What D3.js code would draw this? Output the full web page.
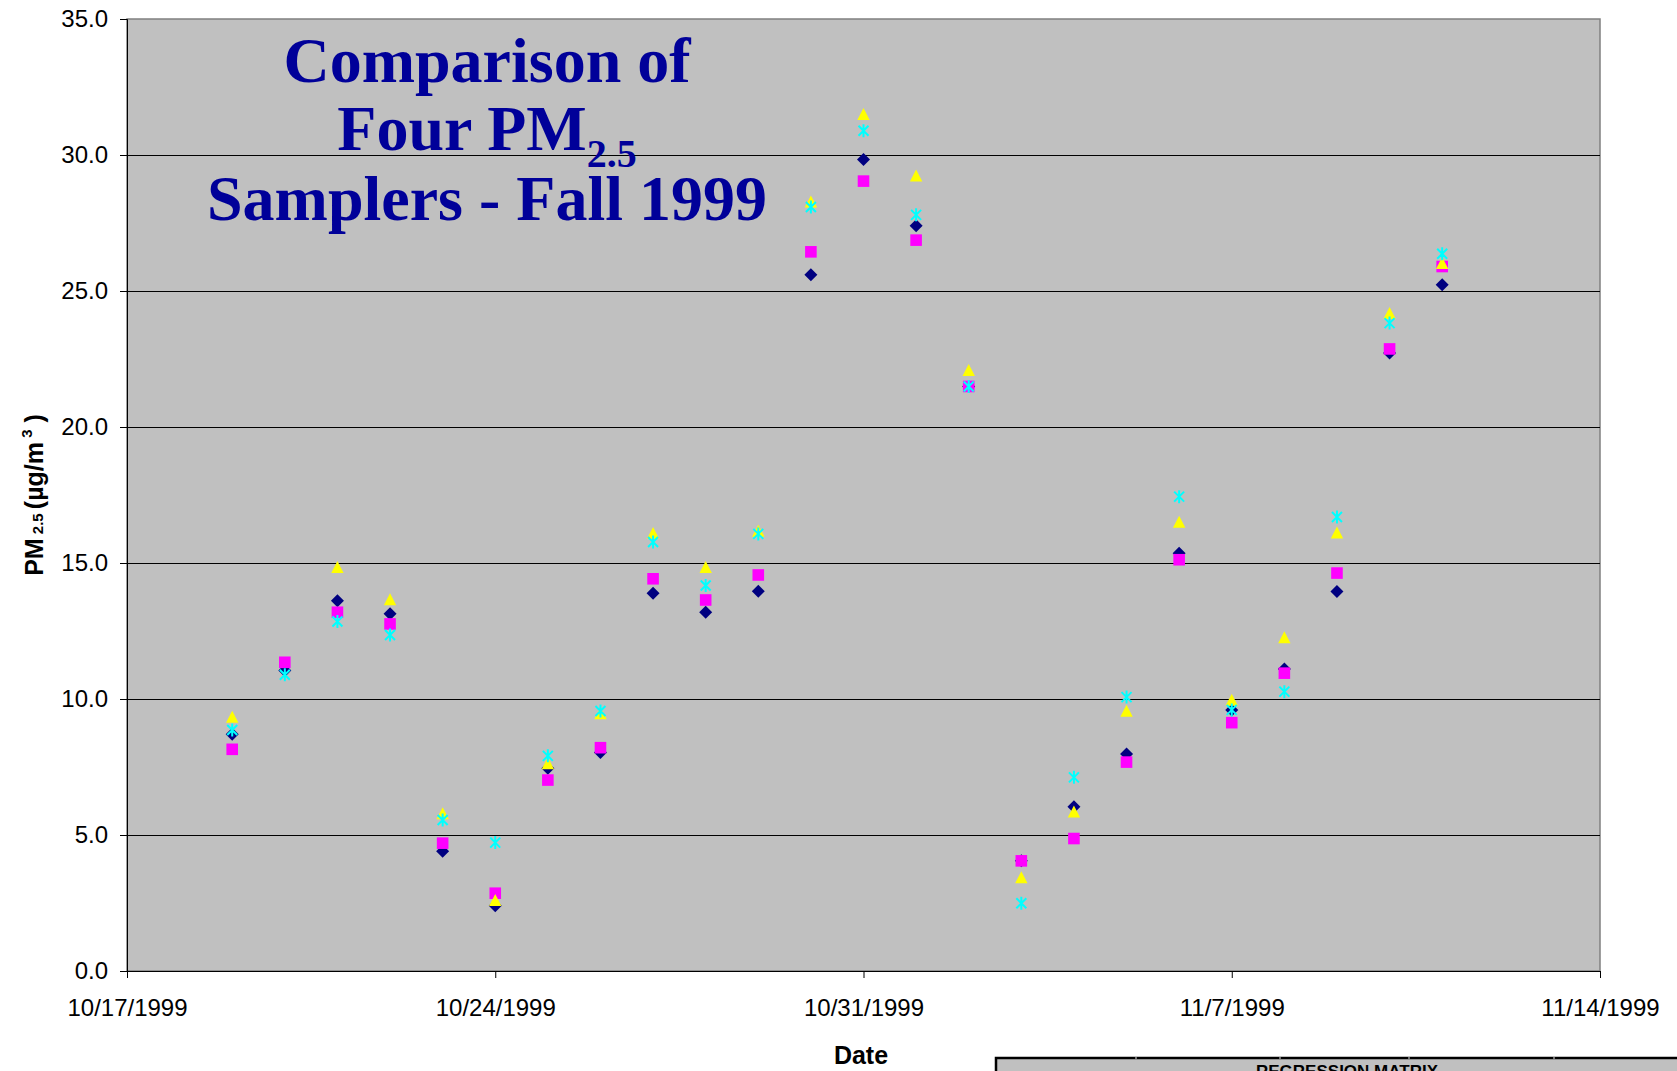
<!DOCTYPE html>
<html lang="en">
<head>
    <meta charset="UTF-8">
    <title>Comparison of Four PM2.5 Samplers - Fall 1999</title>
    <style>
        body { margin: 0; background: #fff; }
        svg { display: block; }
        .axis text { font-family: "Liberation Sans", Arial, sans-serif; font-size: 24px; fill: #000; }
        .axis path, .axis line { stroke: #000; }
    </style>
</head>
<body>
    <div class="visHolder"></div>

    <script src="https://cdnjs.cloudflare.com/ajax/libs/d3/7.8.5/d3.min.js"></script>
    <script>
        // sample days
        var dates = ['10/19/1999', '10/20/1999', '10/21/1999', '10/22/1999', '10/23/1999', '10/24/1999',
                     '10/25/1999', '10/26/1999', '10/27/1999', '10/28/1999', '10/29/1999', '10/30/1999',
                     '10/31/1999', '11/1/1999', '11/2/1999', '11/3/1999', '11/4/1999', '11/5/1999',
                     '11/6/1999', '11/7/1999', '11/8/1999', '11/9/1999', '11/10/1999', '11/11/1999'];

        // four samplers, ug/m3 (null = no sample)
        var samplerA = [8.70, 11.05, 13.61, 13.13, 4.40, 2.40, 7.45, 8.03, 13.89, 13.19, 13.96, 25.60,
                        29.83, 27.40, 21.49, 4.05, 6.04, 7.98, 15.36, 9.60, 11.10, 13.95, 22.72, 25.23];
        var samplerB = [8.15, 11.35, 13.19, 12.76, 4.70, 2.86, 7.02, 8.21, 14.42, 13.64, 14.56, 26.44,
                        29.04, 26.87, 21.49, 4.05, 4.87, 7.68, 15.12, 9.13, 10.95, 14.63, 22.87, 25.90];
        var samplerC = [9.35, null, 14.85, 13.67, 5.80, 2.61, 7.64, 9.48, 16.10, 14.85, 16.19, 28.29,
                        31.51, 29.25, 22.10, 3.45, 5.86, 9.57, 16.52, 9.97, 12.27, 16.12, 24.19, 26.03];
        var samplerD = [8.86, 10.89, 12.85, 12.35, 5.55, 4.72, 7.91, 9.56, 15.77, 14.17, 16.07, 28.09,
                        30.89, 27.80, 21.49, 2.49, 7.12, 10.07, 17.44, 9.60, 10.27, 16.69, 23.82, 26.37];

        var xTickLabels = ['10/17/1999', '10/24/1999', '10/31/1999', '11/7/1999', '11/14/1999'];
        var yTickValues = [0, 5, 10, 15, 20, 25, 30, 35];

        var width = 1677, height = 1071;
        // "top" is taken by window.top, so prefix the plot edges
        var plotLeft = 127, plotRight = 1600, plotTop = 19, plotBottom = 971;

        var parseDate = d3.timeParse('%m/%d/%Y');
        var xTicks = xTickLabels.map(parseDate);

        var svg = d3.select('.visHolder')
                    .append('svg')
                    .attr('width', width)
                    .attr('height', height);

        var xScale = d3.scaleTime()
                       .domain([xTicks[0], xTicks[xTicks.length - 1]])
                       .range([plotLeft, plotRight]);
        var yScale = d3.scaleLinear()
                       .domain([0, 35])
                       .range([plotBottom, plotTop]);

        // grey plot area
        svg.append('rect')
           .attr('x', plotLeft).attr('y', plotTop)
           .attr('width', plotRight - plotLeft).attr('height', plotBottom - plotTop)
           .attr('fill', '#c0c0c0')
           .attr('stroke', '#808080')
           .attr('stroke-width', 1.5);

        // horizontal gridlines
        svg.append('g')
           .selectAll('line')
           .data(yTickValues.slice(1, -1))
           .enter()
           .append('line')
           .attr('x1', plotLeft).attr('x2', plotRight)
           .attr('y1', d => Math.round(yScale(d)) + 0.5)
           .attr('y2', d => Math.round(yScale(d)) + 0.5)
           .attr('stroke', '#000')
           .attr('stroke-width', 1);

        // axes
        var yAxis = d3.axisLeft(yScale)
                      .tickValues(yTickValues)
                      .tickFormat(d3.format('.1f'))
                      .tickSize(7)
                      .tickPadding(12);
        svg.append('g')
           .attr('class', 'axis')
           .attr('transform', 'translate(' + plotLeft + ',0)')
           .call(yAxis);

        var xAxis = d3.axisBottom(xScale)
                      .tickValues(xTicks)
                      .tickFormat((d, i) => xTickLabels[i])
                      .tickSize(7)
                      .tickPadding(21);
        svg.append('g')
           .attr('class', 'axis')
           .attr('transform', 'translate(0,' + plotBottom + ')')
           .call(xAxis);

        // markers, drawn in series order like the original
        var series = [
            { values: samplerA, shape: 'M0,-6.5L6.5,0L0,6.5L-6.5,0Z', fill: '#000080', stroke: 'none' },
            { values: samplerB, shape: 'M-5.8,-5.8H5.8V5.8H-5.8Z', fill: '#ff00ff', stroke: 'none' },
            { values: samplerC, shape: 'M0,-6L6.2,6L-6.2,6Z', fill: '#ffff00', stroke: 'none' },
            { values: samplerD, shape: 'M0,-6.5V6.5M-5,-5L5,5M-5,5L5,-5', fill: 'none', stroke: '#00ffff' }
        ];

        series.forEach(function (s) {
            var pts = s.values.map((v, i) => ({ date: parseDate(dates[i]), value: v }))
                              .filter(p => p.value !== null);
            svg.append('g')
               .selectAll('path')
               .data(pts)
               .enter()
               .append('path')
               .attr('d', s.shape)
               .attr('transform', p => 'translate(' + xScale(p.date) + ',' + yScale(p.value) + ')')
               .attr('fill', s.fill)
               .attr('stroke', s.stroke)
               .attr('stroke-width', 2);
        });

        // title inside the plot
        var title = svg.append('text')
                       .attr('text-anchor', 'middle')
                       .style('font-family', '"Liberation Serif", "Times New Roman", serif')
                       .style('font-weight', 'bold')
                       .style('font-size', '64px')
                       .style('fill', '#000099');
        title.append('tspan').attr('x', 487).attr('y', 82).text('Comparison of');
        var line2 = title.append('tspan').attr('x', 487).attr('y', 150);
        line2.append('tspan').text('Four PM');
        line2.append('tspan').attr('dy', 17).style('font-size', '40px').text('2.5');
        title.append('tspan').attr('x', 487).attr('y', 220).text('Samplers - Fall 1999');

        // axis titles
        svg.append('text')
           .attr('x', 861).attr('y', 1064)
           .attr('text-anchor', 'middle')
           .style('font-family', '"Liberation Sans", Arial, sans-serif')
           .style('font-weight', 'bold')
           .style('font-size', '25px')
           .text('Date');

        var yLabel = svg.append('text')
                        .attr('transform', 'translate(43,495) rotate(-90)')
                        .attr('text-anchor', 'middle')
                        .style('font-family', '"Liberation Sans", Arial, sans-serif')
                        .style('font-weight', 'bold')
                        .style('font-size', '25px');
        yLabel.append('tspan').text('PM');
        yLabel.append('tspan').style('font-size', '15px').text(' 2.5 ');
        yLabel.append('tspan').text('(µg/m');
        yLabel.append('tspan').attr('dy', -11).style('font-size', '15px').text(' 3');
        yLabel.append('tspan').attr('dy', 11).text(' )');

        // regression matrix box, cut off by the page bottom
        svg.append('rect')
           .attr('x', 996).attr('y', 1058)
           .attr('width', 700).attr('height', 40)
           .attr('fill', '#c0c0c0')
           .attr('stroke', '#000')
           .attr('stroke-width', 2.5);
        svg.append('g')
           .selectAll('line')
           .data([1136, 1280, 1409, 1554])
           .enter()
           .append('line')
           .attr('x1', d => d).attr('x2', d => d)
           .attr('y1', 1057).attr('y2', 1059)
           .attr('stroke', '#ddd');
        svg.append('text')
           .attr('x', 1347).attr('y', 1077)
           .attr('text-anchor', 'middle')
           .style('font-family', '"Liberation Sans", Arial, sans-serif')
           .style('font-weight', 'bold')
           .style('font-size', '17px')
           .text('REGRESSION MATRIX');
    </script>
</body>
</html>
